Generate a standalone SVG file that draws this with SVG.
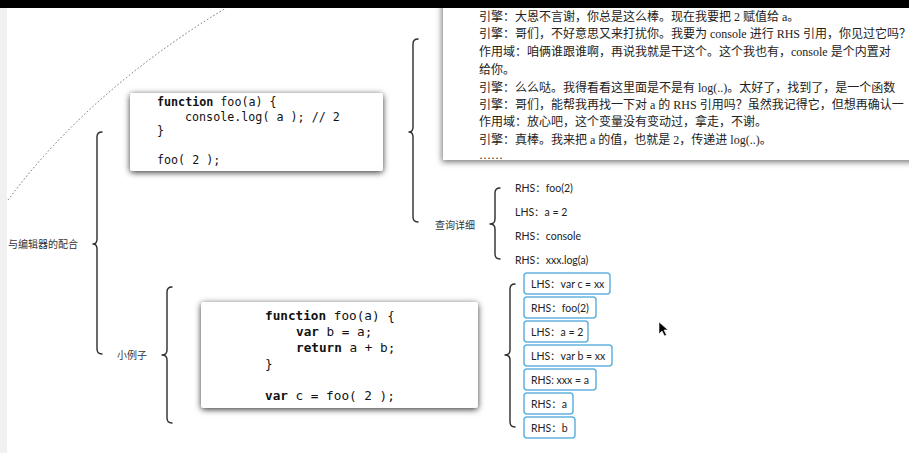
<svg xmlns="http://www.w3.org/2000/svg" width="909" height="453" viewBox="0 0 909 453">
<defs>
<filter id="sh" x="-10%" y="-20%" width="120%" height="140%">
<feDropShadow dx="0" dy="1.5" stdDeviation="3" flood-color="#000" flood-opacity="0.8"/>
</filter>
<filter id="sh2" x="-10%" y="-20%" width="120%" height="140%">
<feDropShadow dx="-1" dy="2" stdDeviation="3" flood-color="#000" flood-opacity="0.55"/>
</filter>
<style>
.brace{fill:none;stroke:#2b2b2b;stroke-width:1.4;stroke-linecap:round;stroke-linejoin:round}
.arc{fill:none;stroke:#666;stroke-width:1;stroke-dasharray:1.5 2.2}
.lbl{font-family:"Noto Sans CJK SC","Noto Sans",sans-serif;font-size:10px;fill:#333}
.item{font-family:"Lato","Noto Sans CJK SC",sans-serif;font-size:10.5px;fill:#222}
.code1{font-family:"DejaVu Sans Mono","Liberation Mono",monospace;font-size:11.7px;fill:#111}
.code2{font-family:"DejaVu Sans Mono","Liberation Mono",monospace;font-size:12.7px;fill:#111}
.kw{font-weight:bold}
.dlg{font-family:"Liberation Serif","Noto Sans CJK SC",serif;font-size:12px;fill:#222}
.tag{fill:#fff;stroke:#62b3df;stroke-width:1.5}
</style>
</defs>
<rect x="0" y="0" width="909" height="453" fill="#fff"/>
<rect x="0" y="0" width="7" height="453" fill="#f1f1f1"/>

<g id="connectors">
<path class="arc" d="M 8 200 Q 90 90 226 8"/>
<path class="brace" d="M 102 132 Q 97 132 97 137 L 97 239 Q 97 244 93 244 Q 97 244 97 249 L 97 349 Q 97 354 102 354"/>
<path class="brace" d="M 418 39 Q 413 39 413 44 L 413 127 Q 413 132 409 132 Q 413 132 413 137 L 413 217 Q 413 222 418 222"/>
<path class="brace" d="M 172 287 Q 167 287 167 292 L 167 350 Q 167 355 162 355 Q 167 355 167 360 L 167 418 Q 167 423 172 423"/>
<path class="brace" d="M 500 188 Q 495 188 495 193 L 495 219 Q 495 224 490 224 Q 495 224 495 229 L 495 254 Q 495 259 500 259"/>
<path class="brace" d="M 515 284 Q 510 284 510 289 L 510 350 Q 510 355 505 355 Q 510 355 510 360 L 510 422 Q 510 427 515 427"/>
</g>

<g id="dialog">
<rect x="443" y="-10" width="480" height="170" fill="#fff" filter="url(#sh2)"/>
<text class="dlg" x="479" y="21">引擎：大恩不言谢，你总是这么棒。现在我要把 2 赋值给 a。</text>
<text class="dlg" x="479" y="38">引擎：哥们，不好意思又来打扰你。我要为 console 进行 RHS 引用，你见过它吗？</text>
<text class="dlg" x="479" y="56">作用域：咱俩谁跟谁啊，再说我就是干这个。这个我也有，console 是个内置对</text>
<text class="dlg" x="479" y="74">给你。</text>
<text class="dlg" x="479" y="92">引擎：么么哒。我得看看这里面是不是有 log(..)。太好了，找到了，是一个函数</text>
<text class="dlg" x="479" y="109">引擎：哥们，能帮我再找一下对 a 的 RHS 引用吗？虽然我记得它，但想再确认一</text>
<text class="dlg" x="479" y="126">作用域：放心吧，这个变量没有变动过，拿走，不谢。</text>
<text class="dlg" x="479" y="144">引擎：真棒。我来把 a 的值，也就是 2，传递进 log(..)。</text>
<text class="dlg" x="479" y="159">……</text>
</g>

<rect x="0" y="0" width="909" height="8" fill="#000"/>

<g id="root">
<text class="lbl" x="8" y="247.5">与编辑器的配合</text>
</g>

<g id="code1">
<rect x="130" y="93" width="253" height="78" rx="3" fill="#fff" filter="url(#sh)"/>
<text class="code1" x="157" y="106"><tspan class="kw">function</tspan> foo(a) {</text>
<text class="code1" x="185" y="120.5">console.log( a ); // 2</text>
<text class="code1" x="157" y="135">}</text>
<text class="code1" x="157" y="164">foo( 2 );</text>
</g>

<g id="query">
<text class="lbl" x="435" y="228.5">查询详细</text>
</g>
<g id="q-items">
<text class="item" x="515" y="192">RHS：foo(2)</text>
<text class="item" x="515" y="216">LHS：a = 2</text>
<text class="item" x="515" y="240">RHS：console</text>
<text class="item" x="515" y="264">RHS：xxx.log(a)</text>
</g>

<g id="example">
<text class="lbl" x="117" y="359">小例子</text>
</g>

<g id="code2">
<rect x="201" y="302" width="277" height="106" rx="3" fill="#fff" filter="url(#sh)"/>
<text class="code2" x="265" y="319.5"><tspan class="kw">function</tspan> foo(a) {</text>
<text class="code2" x="296" y="335.5"><tspan class="kw">var</tspan> b = a;</text>
<text class="code2" x="296" y="351.5"><tspan class="kw">return</tspan> a + b;</text>
<text class="code2" x="265" y="367.5">}</text>
<text class="code2" x="265" y="399.5"><tspan class="kw">var</tspan> c = foo( 2 );</text>
</g>

<g id="tags">
<g id="t1"><rect class="tag" x="524" y="273" width="86" height="21" rx="3"/><text class="item" x="531" y="287.5">LHS：var c = xx</text></g>
<g id="t2"><rect class="tag" x="524" y="297" width="72" height="21" rx="3"/><text class="item" x="531" y="311.5">RHS：foo(2)</text></g>
<g id="t3"><rect class="tag" x="524" y="321" width="64" height="21" rx="3"/><text class="item" x="531" y="335.5">LHS：a = 2</text></g>
<g id="t4"><rect class="tag" x="524" y="345" width="88" height="21" rx="3"/><text class="item" x="531" y="359.5">LHS：var b = xx</text></g>
<g id="t5"><rect class="tag" x="524" y="369" width="72" height="21" rx="3"/><text class="item" x="531" y="383.5">RHS: xxx = a</text></g>
<g id="t6"><rect class="tag" x="524" y="393" width="49" height="21" rx="3"/><text class="item" x="531" y="407.5">RHS：a</text></g>
<g id="t7"><rect class="tag" x="524" y="417" width="51" height="21" rx="3"/><text class="item" x="531" y="431.5">RHS：b</text></g>
</g>

<polygon points="659,322 659,334 662,331 664.5,336 666.5,335 664,330 668,330" fill="#000" stroke="#fff" stroke-width="0.6"/>
</svg>
